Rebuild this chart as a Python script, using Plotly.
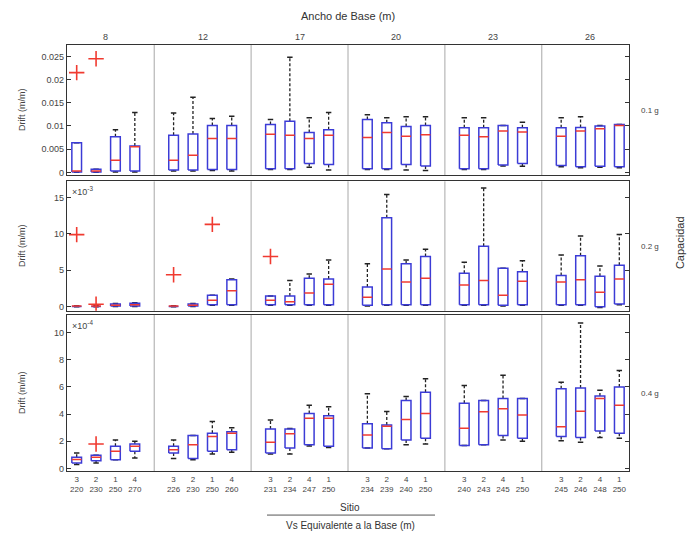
import plotly.graph_objects as go

# ---------------- data ----------------
groups = ["8", "12", "17", "20", "23", "26"]          # Ancho de Base (m)
sites = [["3", "2", "1", "4"], ["3", "2", "1", "4"], ["3", "2", "4", "1"],
         ["3", "2", "4", "1"], ["3", "2", "4", "1"], ["3", "2", "4", "1"]]
vs = [["220", "230", "250", "270"], ["226", "230", "250", "260"],
      ["231", "234", "247", "250"], ["234", "239", "240", "250"],
      ["240", "243", "245", "250"], ["245", "246", "248", "250"]]
rows = ["0.1 g", "0.2 g", "0.4 g"]

# each box: [lower whisker, q1, median, q3, upper whisker]
# 0.1 g  (m/m)
boxes_01 = [
    [0.0000, 0.0001, 0.0003, 0.0064, 0.0064], [0.0000, 0.0001, 0.0003, 0.0007, 0.0007],
    [0.0001, 0.0003, 0.0026, 0.0077, 0.0092], [0.0001, 0.0003, 0.0055, 0.0057, 0.0129],
    [0.0003, 0.0005, 0.0026, 0.0080, 0.0128], [0.0003, 0.0005, 0.0037, 0.0083, 0.0162],
    [0.0004, 0.0006, 0.0073, 0.0101, 0.0116], [0.0003, 0.0006, 0.0073, 0.0101, 0.0121],
    [0.0006, 0.0008, 0.0082, 0.0103, 0.0114], [0.0006, 0.0008, 0.0080, 0.0110, 0.0248],
    [0.0011, 0.0019, 0.0073, 0.0086, 0.0118], [0.0005, 0.0017, 0.0080, 0.0092, 0.0129],
    [0.0006, 0.0008, 0.0075, 0.0114, 0.0124], [0.0006, 0.0008, 0.0086, 0.0107, 0.0118],
    [0.0005, 0.0017, 0.0078, 0.0099, 0.0120], [0.0004, 0.0014, 0.0081, 0.0101, 0.0120],
    [0.0006, 0.0008, 0.0080, 0.0096, 0.0118], [0.0006, 0.0008, 0.0077, 0.0096, 0.0118],
    [0.0014, 0.0016, 0.0089, 0.0101, 0.0101], [0.0013, 0.0019, 0.0087, 0.0096, 0.0108],
    [0.0012, 0.0015, 0.0078, 0.0096, 0.0118], [0.0010, 0.0012, 0.0089, 0.0097, 0.0120],
    [0.0011, 0.0013, 0.0094, 0.0100, 0.0101], [0.0010, 0.0012, 0.0101, 0.0103, 0.0103],
]
outliers_01 = [(0, 0.0215), (1, 0.0245)]

# 0.2 g  (x10^-3 m/m)
boxes_02 = [
    [0.0, 0.05, 0.1, 0.15, 0.15], [0.0, 0.05, 0.1, 0.15, 0.2],
    [0.05, 0.1, 0.2, 0.4, 0.45], [0.05, 0.1, 0.3, 0.5, 0.55],
    [0.0, 0.05, 0.1, 0.15, 0.15], [0.05, 0.1, 0.2, 0.4, 0.45],
    [0.2, 0.3, 0.9, 1.6, 1.6], [0.2, 0.3, 2.2, 3.7, 3.8],
    [0.2, 0.3, 0.9, 1.5, 1.5], [0.2, 0.3, 0.7, 1.5, 3.6],
    [0.2, 0.3, 1.9, 3.9, 4.5], [0.2, 0.3, 3.1, 3.8, 6.4],
    [0.1, 0.2, 1.3, 2.7, 5.9], [0.2, 0.3, 5.2, 12.2, 15.4],
    [0.2, 0.3, 3.4, 5.9, 6.4], [0.2, 0.3, 3.9, 6.9, 7.9],
    [0.2, 0.3, 3.0, 4.6, 6.1], [0.2, 0.3, 3.6, 8.3, 16.3],
    [0.1, 0.2, 1.6, 5.3, 5.3], [0.2, 0.3, 3.5, 4.8, 6.3],
    [0.2, 0.3, 3.4, 4.3, 7.1], [0.2, 0.3, 3.7, 7.0, 9.7],
    [-0.1, 0.0, 2.0, 4.2, 5.6], [0.3, 0.4, 3.8, 5.7, 9.9],
]
outliers_02 = [(0, 9.9), (1, 0.35), (4, 4.4), (6, 11.3), (8, 6.9)]

# 0.4 g  (x10^-4 m/m)
boxes_04 = [
    [0.30, 0.41, 0.66, 0.83, 1.14], [0.41, 0.58, 0.83, 0.97, 0.97],
    [0.65, 0.65, 1.27, 1.63, 2.10], [0.78, 1.27, 1.63, 1.80, 2.00],
    [0.73, 1.14, 1.38, 1.63, 2.10], [0.65, 0.73, 1.75, 2.43, 2.43],
    [1.07, 1.27, 2.35, 2.60, 3.45], [1.20, 1.38, 2.60, 2.70, 3.00],
    [1.07, 1.14, 1.94, 2.90, 3.56], [1.07, 1.50, 2.55, 2.90, 2.95],
    [1.65, 1.75, 3.69, 4.05, 4.65], [1.55, 1.63, 3.69, 3.88, 4.54],
    [1.50, 1.50, 2.47, 3.30, 5.50], [1.45, 1.45, 3.10, 3.20, 4.20],
    [1.75, 2.10, 3.60, 5.00, 5.30], [1.80, 2.23, 4.05, 5.60, 6.60],
    [1.70, 1.70, 2.96, 4.80, 6.10], [1.75, 1.75, 4.17, 5.00, 5.00],
    [2.10, 2.43, 4.40, 5.15, 6.85], [2.00, 2.23, 3.93, 5.15, 5.15],
    [2.04, 2.35, 3.08, 5.87, 6.35], [1.94, 2.28, 4.22, 5.92, 10.70],
    [2.28, 2.76, 5.14, 5.34, 5.75], [2.23, 2.60, 4.65, 6.00, 7.20],
]
outliers_04 = [(1, 1.8)]

row_boxes = [boxes_01, boxes_02, boxes_04]
row_outliers = [outliers_01, outliers_02, outliers_04]
y_ranges = [[-0.00064, 0.0275], [-0.55, 17.2], [-0.2, 11.3]]
y_ticks = [[0, 0.005, 0.01, 0.015, 0.02, 0.025], [0, 5, 10, 15], [0, 2, 4, 6, 8, 10]]
y_ticktext = [["0", "0.005", "0.01", "0.015", "0.02", "0.025"],
              ["0", "5", "10", "15"], ["0", "2", "4", "6", "8", "10"]]
exponents = [None, "-3", "-4"]

# ---------------- layout geometry ----------------
W, H = 695, 538
nb = 4
gap = 1
positions = [g * (nb + gap) + i + 1 for g in range(len(groups)) for i in range(nb)]
separators = [g * (nb + gap) + nb + (gap + 1) / 2 for g in range(len(groups) - 1)]
group_centers = [g * (nb + gap) + (nb + 1) / 2 for g in range(len(groups))]
x_range = [0.5, positions[-1] + 0.5]
x_dom = [67 / W, 629 / W]
rows_px = [(45, 176), (182, 312), (316, 473)]
y_doms = [[1 - b / H, 1 - t / H] for t, b in rows_px]

BLUE = "#3b3bd6"
RED = "#f03a30"
BLACK = "#222222"
FONT = "Liberation Sans, Arial, sans-serif"
TXT = "#444444"
hw = 0.25   # half box width
cw = 0.14   # half cap width


def ann(text, x, y, size, color=TXT, xref="paper", angle=0, xanchor="center",
        yanchor="middle"):
    return dict(text=text, xref=xref, yref="paper", x=x, y=y, textangle=angle,
                xanchor=xanchor, yanchor=yanchor, showarrow=False,
                font=dict(family=FONT, size=size, color=color))


fig = go.Figure()
shapes = []
annotations = []

for r in range(3):
    xa = "x" if r == 0 else f"x{r+1}"
    ya = "y" if r == 0 else f"y{r+1}"
    bx, by, mx, my, wx, wy, cx, cy = [], [], [], [], [], [], [], []
    for p, (lo, q1, md, q3, hi) in zip(positions, row_boxes[r]):
        bx += [p - hw, p + hw, p + hw, p - hw, p - hw, None]
        by += [q1, q1, q3, q3, q1, None]
        mx += [p - hw, p + hw, None]
        my += [md, md, None]
        wx += [p, p, None, p, p, None]
        wy += [q3, hi, None, q1, lo, None]
        cx += [p - cw, p + cw, None, p - cw, p + cw, None]
        cy += [hi, hi, None, lo, lo, None]
    fig.add_trace(go.Scatter(x=wx, y=wy, mode="lines", xaxis=xa, yaxis=ya,
                             line=dict(color=BLACK, width=1.3, dash="3px,2px"),
                             hoverinfo="skip", showlegend=False))
    fig.add_trace(go.Scatter(x=cx, y=cy, mode="lines", xaxis=xa, yaxis=ya,
                             line=dict(color=BLACK, width=1.5),
                             hoverinfo="skip", showlegend=False))
    fig.add_trace(go.Scatter(x=bx, y=by, mode="lines", xaxis=xa, yaxis=ya,
                             line=dict(color=BLUE, width=1.5),
                             hoverinfo="skip", showlegend=False))
    fig.add_trace(go.Scatter(x=mx, y=my, mode="lines", xaxis=xa, yaxis=ya,
                             line=dict(color=RED, width=1.5),
                             hoverinfo="skip", showlegend=False))
    if row_outliers[r]:
        fig.add_trace(go.Scatter(
            x=[positions[i] for i, _ in row_outliers[r]],
            y=[v for _, v in row_outliers[r]],
            mode="markers", xaxis=xa, yaxis=ya,
            marker=dict(symbol="cross-thin", size=11, color=RED,
                        line=dict(color=RED, width=1.6)),
            hoverinfo="skip", showlegend=False))
    for s in separators:
        shapes.append(dict(type="line", xref=xa, yref=f"{ya} domain",
                           x0=s, x1=s, y0=0, y1=1,
                           line=dict(color="#a8a8a8", width=1), layer="below"))
    xkey = "xaxis" if r == 0 else f"xaxis{r+1}"
    ykey = "yaxis" if r == 0 else f"yaxis{r+1}"
    xcfg = dict(domain=x_dom, range=x_range, anchor=ya, showgrid=False,
                zeroline=False, showline=True, mirror=True, linecolor="#333333",
                linewidth=1.2, ticks="", fixedrange=True)
    if r == 2:
        xcfg.update(tickmode="array", tickvals=positions,
                    ticktext=[f"{sites[g][i]}<br>{vs[g][i]}"
                              for g in range(len(groups)) for i in range(nb)],
                    tickfont=dict(family=FONT, size=8, color=TXT))
    else:
        xcfg.update(showticklabels=False)
    fig.update_layout(**{xkey: xcfg})
    fig.update_layout(**{ykey: dict(
        domain=y_doms[r], range=y_ranges[r], anchor=xa, showgrid=False,
        zeroline=False, showline=True, mirror="ticks", linecolor="#333333",
        linewidth=1.2, ticks="inside", ticklen=4, tickcolor="#333333",
        tickmode="array", tickvals=y_ticks[r], ticktext=y_ticktext[r],
        tickfont=dict(family=FONT, size=9, color=TXT), fixedrange=True)})
    ymid = sum(y_doms[r]) / 2
    annotations.append(ann("Drift (m/m)", 22 / W, ymid, 9, angle=-90))
    annotations.append(ann(rows[r], 639 / W, ymid, 8, xanchor="left"))
    if exponents[r]:
        annotations.append(ann(f"×10<sup>{exponents[r]}</sup>", 70 / W,
                               y_doms[r][1] - 2 / H, 9, xanchor="left",
                               yanchor="top"))

for g, c in zip(groups, group_centers):
    annotations.append(ann(g, c, 1 - 37 / H, 9, xref="x"))

annotations += [
    ann("Ancho de Base (m)", 348 / W, 1 - 16 / H, 11, color="#333333"),
    ann("Capacidad", 680 / W, 1 - 244 / H, 11, color="#333333", angle=-90),
    ann("Sitio", 350 / W, 1 - 509 / H, 10, color="#333333"),
    ann("Vs Equivalente a la Base (m)", 350 / W, 1 - 527 / H, 10, color="#333333"),
]
shapes.append(dict(type="line", xref="paper", yref="paper", x0=267 / W, x1=435 / W,
                   y0=1 - 517 / H, y1=1 - 517 / H, line=dict(color="#555555", width=1)))

fig.update_layout(width=W, height=H, margin=dict(l=0, r=0, t=0, b=0),
                  paper_bgcolor="white", plot_bgcolor="white",
                  shapes=shapes, annotations=annotations, showlegend=False)

fig.write_html("out.html")
